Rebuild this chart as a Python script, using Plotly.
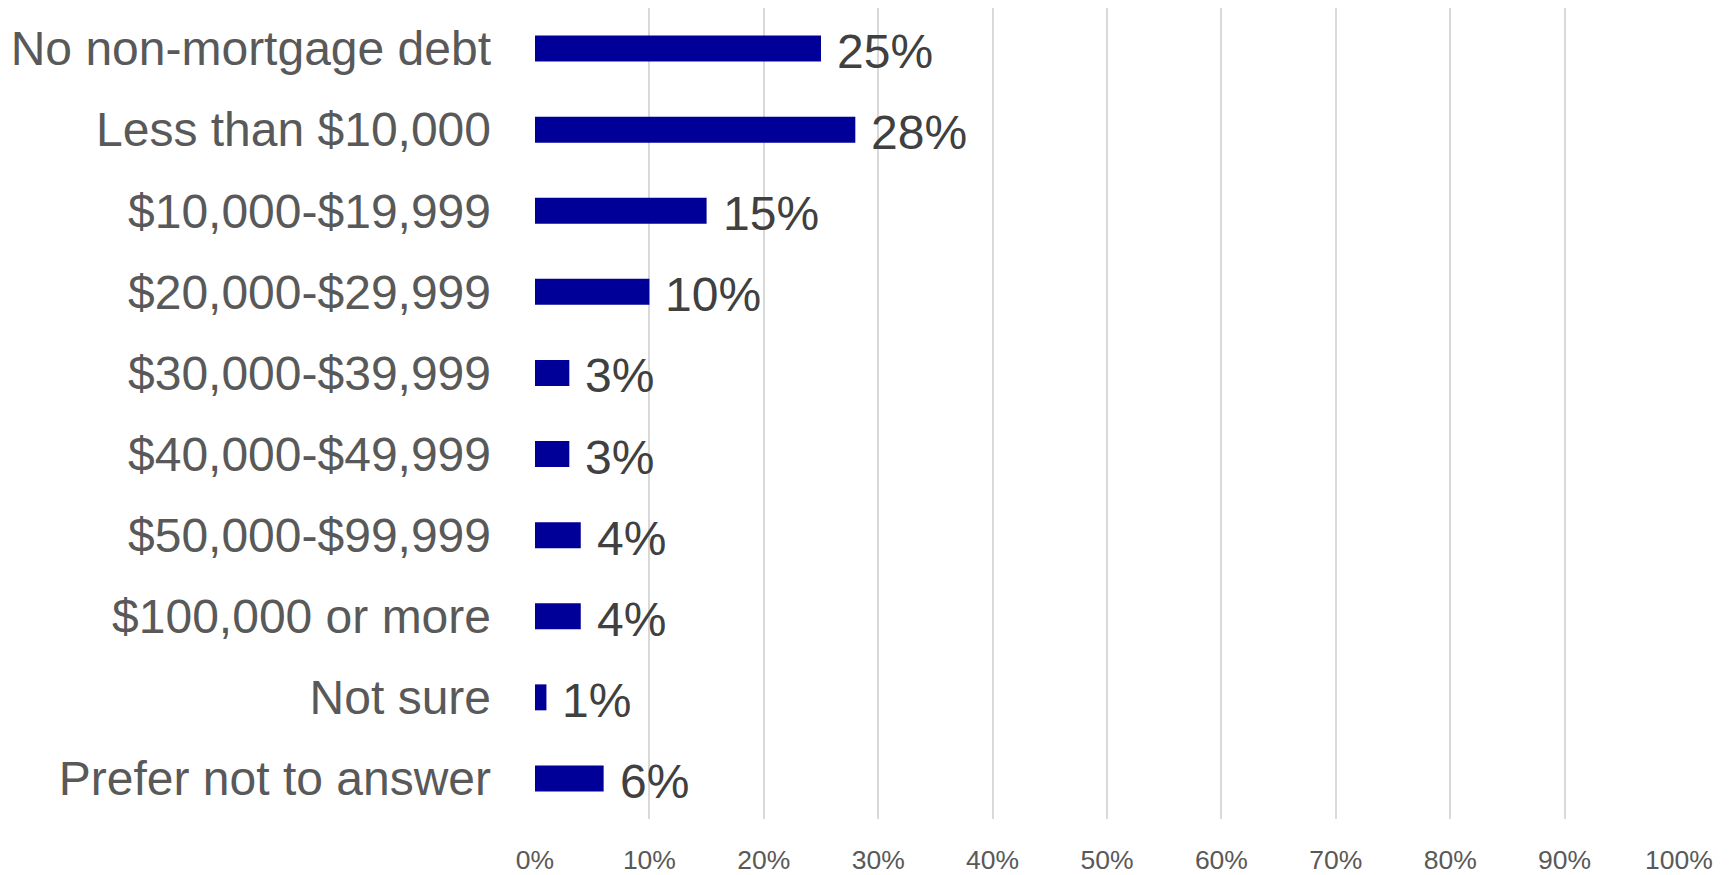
import plotly.graph_objects as go

# Data
categories = [
    "No non-mortgage debt",
    "Less than $10,000",
    "$10,000-$19,999",
    "$20,000-$29,999",
    "$30,000-$39,999",
    "$40,000-$49,999",
    "$50,000-$99,999",
    "$100,000 or more",
    "Not sure",
    "Prefer not to answer",
]
shares = [25, 28, 15, 10, 3, 3, 4, 4, 1, 6]
tick_vals = [0, 10, 20, 30, 40, 50, 60, 70, 80, 90, 100]
tick_text = [f"{v}%" for v in tick_vals]

fig = go.Figure(
    go.Bar(
        x=shares,
        y=categories,
        orientation="h",
        marker=dict(color="#000099", line=dict(width=0)),
        hoverinfo="skip",
    )
)

# value labels to the right of each bar
for cat, val in zip(categories, shares):
    fig.add_annotation(
        x=val, y=cat, text=f"{val}%", showarrow=False,
        xanchor="left", yanchor="middle", xshift=14, yshift=-3,
        font=dict(family="Liberation Sans, Arial", size=48, color="#404040"),
    )

# page body adds an 8px margin, so the figure is 8px smaller each way
fig.update_layout(
    width=1728,
    height=867,
    margin=dict(l=527, r=57, t=0, b=52),
    paper_bgcolor="white",
    plot_bgcolor="white",
    bargap=0.68,
    showlegend=False,
    font=dict(family="Liberation Sans, Arial"),
)
fig.update_xaxes(
    range=[0, 100],
    tickvals=tick_vals,
    ticktext=tick_text,
    showgrid=True,
    gridcolor="#d9d9d9",
    gridwidth=2,
    zeroline=False,
    showline=False,
    ticks="",
    ticklabelstandoff=22,
    tickfont=dict(size=26.5, color="#595959"),
)
fig.update_yaxes(
    categoryorder="array",
    categoryarray=categories,
    autorange="reversed",
    showgrid=False,
    zeroline=False,
    showline=False,
    ticks="",
    ticklabelstandoff=43,
    tickfont=dict(size=48, color="#595959"),
)

fig.write_html("out.html")
